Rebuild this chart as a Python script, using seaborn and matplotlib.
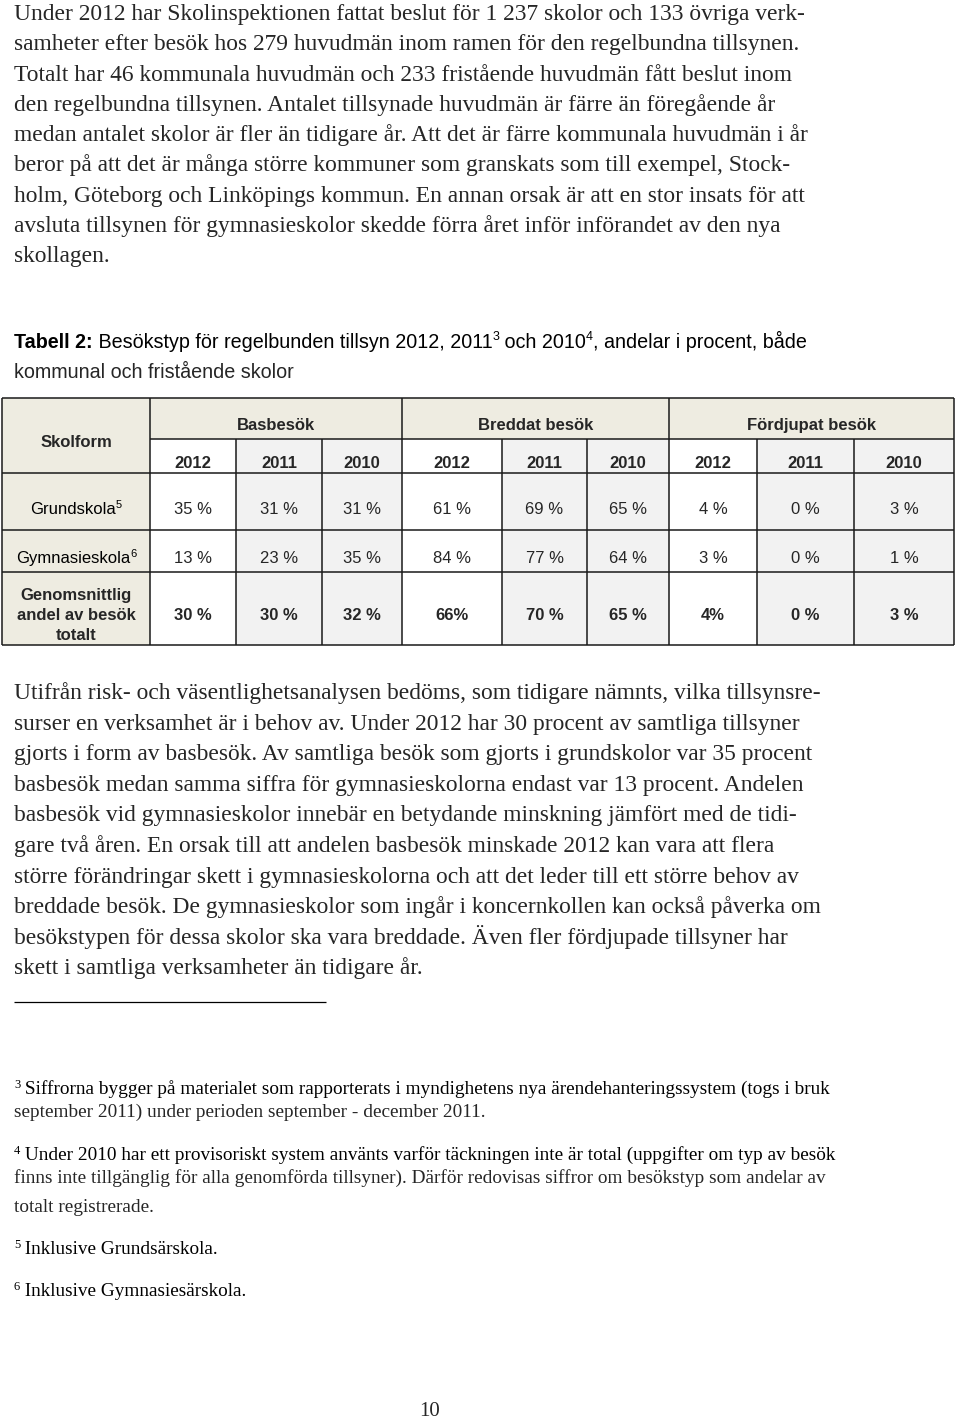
import numpy as np
import matplotlib
matplotlib.use("Agg")
import matplotlib.pyplot as plt
from matplotlib.colors import ListedColormap
from matplotlib import font_manager
import seaborn as sns

#################### data ####################
visit_types = ["Basbesök", "Breddat besök", "Fördjupat besök"]
years = ["2012", "2011", "2010"]
row_names = ["Grundskola", "Gymnasieskola"]
row_notes = ["5", "6"]
grundskola = [35, 31, 31, 61, 69, 65, 4, 0, 3]
gymnasieskola = [13, 23, 35, 84, 77, 64, 3, 0, 1]
total_label = ["Genomsnittlig", "andel av besök", "totalt"]
totalt = ["30 %", "30 %", "32 %", "66%", "70 %", "65 %", "4%", "0 %", "3 %"]

para1 = [
    "Under 2012 har Skolinspektionen fattat beslut för 1 237 skolor och 133 övriga verk-",
    "samheter efter besök hos 279 huvudmän inom ramen för den regelbundna tillsynen.",
    "Totalt har 46 kommunala huvudmän och 233 fristående huvudmän fått beslut inom",
    "den regelbundna tillsynen. Antalet tillsynade huvudmän är färre än föregående år",
    "medan antalet skolor är fler än tidigare år. Att det är färre kommunala huvudmän i år",
    "beror på att det är många större kommuner som granskats som till exempel, Stock-",
    "holm, Göteborg och Linköpings kommun. En annan orsak är att en stor insats för att",
    "avsluta tillsynen för gymnasieskolor skedde förra året inför införandet av den nya",
    "skollagen.",
]
para2 = [
    "Utifrån risk- och väsentlighetsanalysen bedöms, som tidigare nämnts, vilka tillsynsre-",
    "surser en verksamhet är i behov av. Under 2012 har 30 procent av samtliga tillsyner",
    "gjorts i form av basbesök. Av samtliga besök som gjorts i grundskolor var 35 procent",
    "basbesök medan samma siffra för gymnasieskolorna endast var 13 procent. Andelen",
    "basbesök vid gymnasieskolor innebär en betydande minskning jämfört med de tidi-",
    "gare två åren. En orsak till att andelen basbesök minskade 2012 kan vara att flera",
    "större förändringar skett i gymnasieskolorna och att det leder till ett större behov av",
    "breddade besök. De gymnasieskolor som ingår i koncernkollen kan också påverka om",
    "besökstypen för dessa skolor ska vara breddade. Även fler fördjupade tillsyner har",
    "skett i samtliga verksamheter än tidigare år.",
]
footnotes = [
    ("3", ["Siffrorna bygger på materialet som rapporterats i myndighetens nya ärendehanteringssystem (togs i bruk",
           "september 2011) under perioden september - december 2011."]),
    ("4", [" Under 2010 har ett provisoriskt system använts varför täckningen inte är total (uppgifter om typ av besök",
           "finns inte tillgänglig för alla genomförda tillsyner). Därför redovisas siffror om besökstyp som andelar av",
           "totalt registrerade."]),
    ("5", ["Inklusive Grundsärskola."]),
    ("6", ["Inklusive Gymnasiesärskola."]),
]
page_no = "10"

#################### style ####################
sns.set_theme(style="white")
installed = {f.name for f in font_manager.fontManager.ttflist}
serif = "Liberation Serif"
sans = "Liberation Sans"
narrow = "Liberation Sans Narrow" if "Liberation Sans Narrow" in installed else "Liberation Sans"
plt.rcParams["font.family"] = [serif, "DejaVu Serif"]

fig = plt.figure(figsize=(9.6, 14.22), dpi=100)
ax = fig.add_axes([0, 0, 1, 1])
ax.set_xlim(0, 960)
ax.set_ylim(1422, 0)
ax.axis("off")
renderer = fig.canvas.get_renderer()


def runs(x, y, parts, ha="left"):
    # parts: list of (text, size, weight, family, raise_px)
    objs = []
    cx = x
    for txt, size, weight, fam, up in parts:
        t = ax.text(cx, y - up, txt, fontsize=size, fontweight=weight,
                    family=fam, ha="left", va="baseline", color="black")
        w = t.get_window_extent(renderer=renderer).width
        objs.append(t)
        cx += w
    if ha == "center":
        shift = (cx - x) / 2
        for t in objs:
            px, py = t.get_position()
            t.set_position((px - shift, py))


body_fs = 16.9
# first paragraph
for i, line in enumerate(para1):
    ax.text(14, 20 + i * 30.3, line, fontsize=body_fs, ha="left", va="baseline")

# caption
cap_fs = 14.2 if narrow == "Liberation Sans" else 15
runs(14, 348, [("Tabell 2:", cap_fs, "bold", narrow, 0),
               (" Besökstyp för regelbunden tillsyn 2012, 2011", cap_fs, "normal", narrow, 0),
               ("3", 9, "normal", narrow, 8),
               (" och 2010", cap_fs, "normal", narrow, 0),
               ("4", 9, "normal", narrow, 8),
               (", andelar i procent, både", cap_fs, "normal", narrow, 0)])
ax.text(14, 378, "kommunal och fristående skolor", fontsize=cap_fs, family=narrow,
        ha="left", va="baseline")

#################### table ####################
col_edges = [2, 150, 236, 322, 402, 502, 587, 669, 757, 854, 954]
row_edges = [398, 439, 473, 530, 572, 645]
shade = np.zeros((5, 10))
shade[:, 0] = 2
shade[0, :] = 2
for g in range(3):
    shade[1:, 1 + g * 3 + 1] = 1
    shade[1:, 1 + g * 3 + 2] = 1
cmap = ListedColormap(["#ffffff", "#f2f2f2", "#eeece1"])
ax.pcolormesh(col_edges, row_edges, shade, cmap=cmap, vmin=-0.5, vmax=2.5)

lc = "#1a1a1a"
lw = 1.1
for x in col_edges:
    top = row_edges[0] if x in (2, 150, 402, 669, 954) else row_edges[1]
    ax.vlines(x, top, row_edges[-1], color=lc, lw=lw)
ax.hlines(row_edges[0], col_edges[0], col_edges[-1], color=lc, lw=lw)
ax.hlines(row_edges[1], col_edges[1], col_edges[-1], color=lc, lw=lw)
for y in row_edges[2:]:
    ax.hlines(y, col_edges[0], col_edges[-1], color=lc, lw=lw)

tfs = 12
mid = lambda a, b: (a + b) / 2
ax.text(mid(col_edges[0], col_edges[1]), 447, "Skolform", fontsize=tfs, family=sans,
        fontweight="bold", ha="center", va="baseline")
for g, name in enumerate(visit_types):
    ax.text(mid(col_edges[1 + g * 3], col_edges[4 + g * 3]), 430, name, fontsize=tfs,
            family=sans, fontweight="bold", ha="center", va="baseline")
    for k, yr in enumerate(years):
        c = 1 + g * 3 + k
        ax.text(mid(col_edges[c], col_edges[c + 1]), 468, yr, fontsize=tfs, family=sans,
                fontweight="bold", ha="center", va="baseline")

row_base = [514, 563]
for r, (name, note, vals) in enumerate(zip(row_names, row_notes, [grundskola, gymnasieskola])):
    runs(mid(col_edges[0], col_edges[1]), row_base[r],
         [(name, tfs, "normal", sans, 0), (note, 8, "normal", sans, 6)], ha="center")
    for c, v in enumerate(vals):
        ax.text(mid(col_edges[c + 1], col_edges[c + 2]), row_base[r], f"{v} %", fontsize=tfs,
                family=sans, ha="center", va="baseline")

for k, line in enumerate(total_label):
    ax.text(mid(col_edges[0], col_edges[1]), 600 + k * 20, line, fontsize=tfs, family=sans,
            fontweight="bold", ha="center", va="baseline")
for c, s in enumerate(totalt):
    ax.text(mid(col_edges[c + 1], col_edges[c + 2]), 620, s, fontsize=tfs, family=sans,
            fontweight="bold", ha="center", va="baseline")

#################### second paragraph ####################
for i, line in enumerate(para2):
    ax.text(14, 699 + i * 30.6, line, fontsize=body_fs, ha="left", va="baseline")

ax.hlines(1002, 14, 326, color="black", lw=0.9)

fn_fs = 13.85
fn_base = [[1094, 1117], [1160, 1183, 1212], [1254], [1296]]
for (num, lines), bases in zip(footnotes, fn_base):
    runs(14, bases[0], [(num, 9, "normal", serif, 6), (" " + lines[0].lstrip(), fn_fs, "normal", serif, 0)])
    for line, b in zip(lines[1:], bases[1:]):
        ax.text(14, b, line, fontsize=fn_fs, ha="left", va="baseline")

ax.text(430, 1416, page_no, fontsize=15, ha="center", va="baseline")

fig.savefig("out.png", dpi=100, facecolor="white")
